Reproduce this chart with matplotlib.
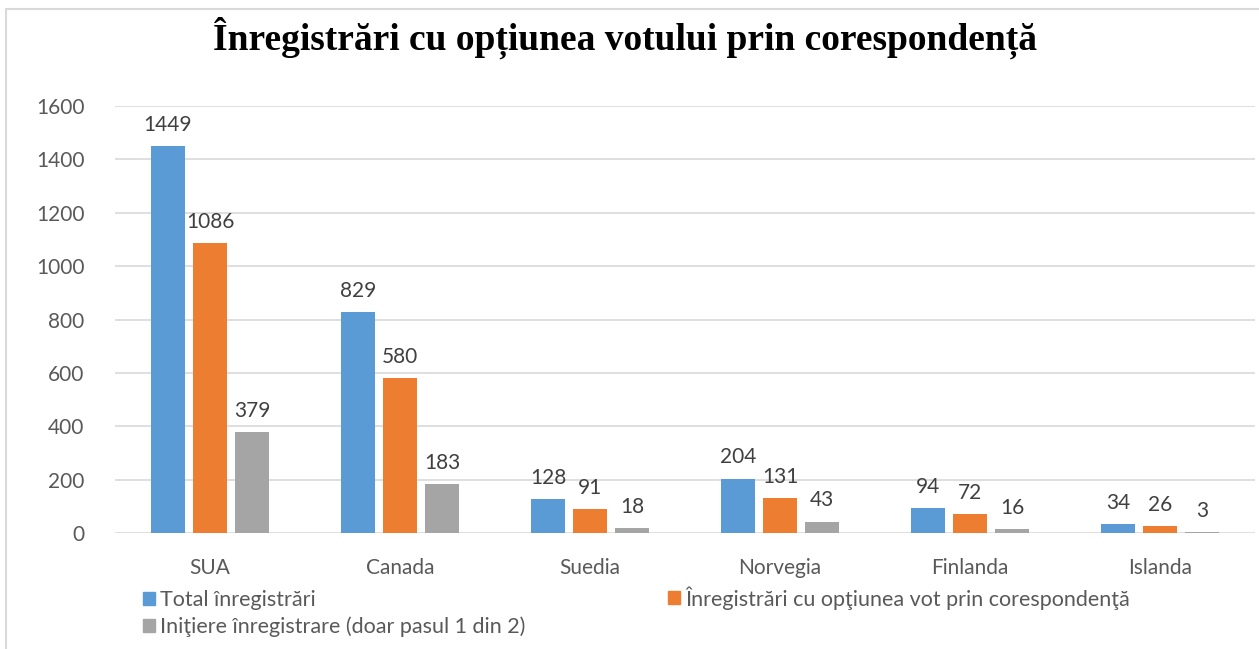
import matplotlib
matplotlib.use("Agg")
import matplotlib.pyplot as plt
import numpy as np
from matplotlib.patches import Rectangle

categories = ["SUA", "Canada", "Suedia", "Norvegia", "Finlanda", "Islanda"]
total = [1449, 829, 128, 204, 94, 34]
corresp = [1086, 580, 91, 131, 72, 26]
initiere = [379, 183, 18, 43, 16, 3]
series_names = ["Total înregistrări",
                "Înregistrări cu opţiunea vot prin corespondenţă",
                "Iniţiere înregistrare (doar pasul 1 din 2)"]
colors = ["#5B9BD5", "#ED7D31", "#A5A5A5"]
title = "Înregistrări cu opțiunea votului prin corespondență"

W, H = 1259, 649
fig = plt.figure(figsize=(W/100, H/100), dpi=100)
font = ["Lato", "DejaVu Sans"]
fs = 15

fig.patches.append(Rectangle((6/W, -0.5), 1.5, 1.5 - 9/H, transform=fig.transFigure,
                             fill=False, edgecolor="#d9d9d9", linewidth=1.5))

ax = fig.add_axes([115/W, 1 - 533/H, (1255-115)/W, (533-106)/H])
x = np.arange(len(categories))
bw = 0.174
step = 0.221
for i, (vals, c) in enumerate(zip([total, corresp, initiere], colors)):
    bars = ax.bar(x + (i - 1) * step, vals, bw, color=c, zorder=3)
    ax.bar_label(bars, padding=8, fontsize=fs, color="#404040", family=font)

ax.set_xlim(-0.5, len(categories) - 0.5)
ax.set_ylim(0, 1600)
ax.set_yticks(range(0, 1601, 200))
ax.yaxis.grid(True, color="#d9d9d9", linewidth=1.2, zorder=0)
for s in ax.spines.values():
    s.set_visible(False)
ax.tick_params(axis="both", length=0, labelsize=fs, colors="#595959")
ax.tick_params(axis="x", pad=18)
ax.tick_params(axis="y", pad=22)
ax.set_xticks(x)
ax.set_xticklabels(categories, family=font)
for t in ax.get_yticklabels():
    t.set_family(font)

fig.text(625/W, 1 - 38/H, title, ha="center", va="center", fontsize=27,
         fontweight="bold", family=["Liberation Serif", "DejaVu Serif"])

def mk(c):
    return Rectangle((0, 0), 1, 1, color=c)

common = dict(loc="upper left", frameon=False, prop={"family": font, "size": 15.5},
              handlelength=0.55, handleheight=0.55, handletextpad=0.25,
              labelspacing=0.3, borderaxespad=0, borderpad=0)
leg1 = fig.legend([mk(colors[0]), mk(colors[2])], [series_names[0], series_names[2]],
                  bbox_to_anchor=(143/W, 1 - 590/H), **common)
leg2 = fig.legend([mk(colors[1])], [series_names[1]],
                  bbox_to_anchor=(668/W, 1 - 586/H), **common)
for leg in (leg1, leg2):
    for t in leg.get_texts():
        t.set_color("#595959")

fig.savefig("out.png", dpi=100)
